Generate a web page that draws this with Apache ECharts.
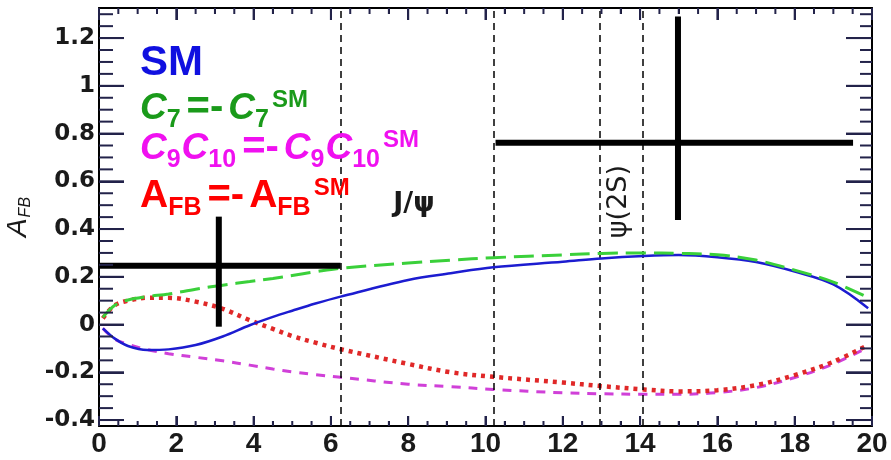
<!DOCTYPE html>
<html><head><meta charset="utf-8">
<script src="https://cdn.jsdelivr.net/npm/echarts@6/dist/echarts.min.js"></script>
<style>html,body{margin:0;padding:0;background:#fff}#c{width:891px;height:460px}</style>
</head><body><div id="c"></div>
<script>
// q^2 sample positions (GeV^2)
const q2 = [0.1, 0.4, 0.75, 1.25, 1.8, 2.5, 3.2, 3.9, 4.5, 5, 5.6, 6.25, 8, 9.1, 10.2, 12, 13, 14.1, 15, 16, 17, 18, 19, 19.9];
// SM (blue solid)
const smAfb = [-0.016, -0.058, -0.09, -0.107, -0.104, -0.086, -0.05, -0.003, 0.032, 0.058, 0.088, 0.117, 0.187, 0.215, 0.24, 0.263, 0.277, 0.287, 0.291, 0.282, 0.262, 0.222, 0.168, 0.068];
// C7 = -C7^SM (green long dash)
const c7Afb = [0.03, 0.08, 0.103, 0.117, 0.128, 0.148, 0.165, 0.18, 0.193, 0.205, 0.221, 0.236, 0.258, 0.27, 0.28, 0.292, 0.298, 0.3, 0.298, 0.292, 0.27, 0.228, 0.178, 0.113];
// C9C10 = -C9C10^SM (magenta short dash)
const c910Afb = [-0.016, -0.06, -0.083, -0.105, -0.122, -0.137, -0.152, -0.17, -0.186, -0.198, -0.21, -0.221, -0.25, -0.26, -0.272, -0.286, -0.29, -0.292, -0.292, -0.285, -0.264, -0.222, -0.165, -0.095];
// AFB = -AFB^SM (red dotted)
const flipAfb = [0.026, 0.08, 0.1, 0.112, 0.112, 0.096, 0.066, 0.018, -0.018, -0.048, -0.076, -0.103, -0.165, -0.2, -0.219, -0.243, -0.258, -0.272, -0.28, -0.275, -0.254, -0.212, -0.156, -0.086];
// measured points
const measX = [3.1, 14.98];
const measY = [0.246, 0.762];
const measXlo = [0, 10.26];
const measXhi = [6.25, 19.51];
const measYlo = [-0.009, 0.438];
const measYhi = [0.452, 1.29];
// veto boundaries
const vetoLines = [6.25, 10.22, 12.96, 14.06];
// annotations
const annText = ['J/\u03C8', '\u03C8(2S)'];
const annX = [8.15, 13.46];
const annY = [0.505, 0.515];
const annRot = [0, 1];
// ticks
const xMajor = [0, 2, 4, 6, 8, 10, 12, 14, 16, 18, 20];
const xMinor = [0.5, 1, 1.5, 2.5, 3, 3.5, 4.5, 5, 5.5, 6.5, 7, 7.5, 8.5, 9, 9.5, 10.5, 11, 11.5, 12.5, 13, 13.5, 14.5, 15, 15.5, 16.5, 17, 17.5, 18.5, 19, 19.5];
const yMajor = [-0.4, -0.2, 0, 0.2, 0.4, 0.6, 0.8, 1.0, 1.2];
const yMinor = [-0.35, -0.3, -0.25, -0.15, -0.1, -0.05, 0.05, 0.1, 0.15, 0.25, 0.3, 0.35, 0.45, 0.5, 0.55, 0.65, 0.7, 0.75, 0.85, 0.9, 0.95, 1.05, 1.1, 1.15, 1.25, 1.3];
const X_MIN = 0, X_MAX = 20, Y_MIN = -0.425, Y_MAX = 1.326;

const zip = (a, b) => a.map((v, i) => [v, b[i]]);
const chart = echarts.init(document.getElementById('c'));
const lab = '#1a1a1a';
const tickCol = '#23234a';
function mk(color) {
  const f = 'Liberation Sans';
  return {
    c: { fontSize: 37, fontWeight: 'bold', fontStyle: 'italic', fontFamily: f, fill: color, verticalAlign: 'top', lineHeight: 38, padding: [6, 0, 0, 0] },
    A: { fontSize: 39, fontWeight: 'bold', fontFamily: f, fill: color, verticalAlign: 'top', lineHeight: 38, padding: [5, 0, 0, 0] },
    o: { fontSize: 40, fontWeight: 'bold', fontFamily: f, fill: color, verticalAlign: 'top', lineHeight: 38, padding: [4, 5, 0, 5] },
    b: { fontSize: 25, fontWeight: 'bold', fontFamily: f, fill: color, verticalAlign: 'top', lineHeight: 24, padding: [24, 1, 0, 0] },
    p: { fontSize: 24, fontWeight: 'bold', fontFamily: f, fill: color, verticalAlign: 'top', lineHeight: 22, padding: [4, 0, 0, 2] }
  };
}
chart.setOption({
  animation: false,
  grid: { left: 99, right: 19, top: 8, bottom: 34, outerBoundsMode: 'none' },
  xAxis: [{
    type: 'value', position: 'bottom', min: X_MIN, max: X_MAX, interval: 2,
    axisLine: { show: true, onZero: false, lineStyle: { color: '#000', width: 2 } },
    axisTick: { show: true, inside: true, length: 10, lineStyle: { color: tickCol, width: 2 } },
    minorTick: { show: true, splitNumber: 4, length: 5 },
    axisLabel: { show: true, margin: 4, color: lab, fontSize: 28, fontWeight: 'bold', fontFamily: 'Liberation Sans' },
    splitLine: { show: false }
  }, {
    type: 'value', position: 'top', min: X_MIN, max: X_MAX, interval: 2,
    axisLine: { show: true, onZero: false, lineStyle: { color: '#000', width: 2 } },
    axisTick: { show: true, inside: true, length: 12, lineStyle: { color: tickCol, width: 2 } },
    minorTick: { show: true, splitNumber: 4, length: 6 },
    axisLabel: { show: false }, splitLine: { show: false }
  }],
  yAxis: [{
    type: 'value', position: 'left', min: Y_MIN, max: Y_MAX,
    axisLine: { show: true, onZero: false, lineStyle: { color: '#000', width: 2 } },
    axisTick: { show: true, inside: true, length: 25, customValues: yMajor, lineStyle: { color: tickCol, width: 2 } },
    axisLabel: { show: true, customValues: yMajor, margin: 4, color: lab, fontSize: 23, fontWeight: 'bold', fontFamily: 'DejaVu Sans',
      formatter: v => String(Math.round(v * 10) / 10) },
    splitLine: { show: false },
    name: '{a|A}{s|FB}', nameLocation: 'middle', nameGap: 51, nameRotate: 90,
    nameTextStyle: { rich: {
      a: { fontSize: 28, fontStyle: 'italic', fontFamily: 'Liberation Sans', color: lab, verticalAlign: 'top', lineHeight: 30 },
      s: { fontSize: 16, fontStyle: 'italic', fontFamily: 'Liberation Sans', color: lab, verticalAlign: 'top', lineHeight: 16, padding: [14, 0, 0, 1] }
    } }
  }, {
    type: 'value', position: 'right', min: Y_MIN, max: Y_MAX,
    axisLine: { show: true, onZero: false, lineStyle: { color: '#000', width: 2 } },
    axisTick: { show: true, inside: true, length: 26, customValues: yMajor, lineStyle: { color: tickCol, width: 2 } },
    axisLabel: { show: false }, splitLine: { show: false }
  }],
  series: [
    { type: 'line', data: zip(q2, c910Afb), smooth: 0.35, symbol: 'none', z: 3, lineStyle: { color: '#d040d8', type: [9, 8], width: 3 } },
    { type: 'line', data: zip(q2, flipAfb), smooth: 0.35, symbol: 'none', z: 4, lineStyle: { color: '#e02828', type: [4, 5], width: 4.5 } },
    { type: 'line', data: zip(q2, smAfb), smooth: 0.35, symbol: 'none', z: 5, lineStyle: { color: '#1c1cd0', type: 'solid', width: 2.5 } },
    { type: 'line', data: zip(q2, c7Afb), smooth: 0.35, symbol: 'none', z: 6, lineStyle: { color: '#3ad03a', type: [20, 8], width: 3 } },
    {
      type: 'line', data: [], z: 2,
      markLine: {
        symbol: 'none', silent: true, label: { show: false },
        lineStyle: { color: '#000', type: [7, 5], width: 1.5 },
        data: vetoLines.map(v => ({ xAxis: v }))
      }
    },
    {
      type: 'custom', z: 8,
      data: measX.map((x, i) => [x, measY[i], measXlo[i], measXhi[i], measYlo[i], measYhi[i]]),
      renderItem: (params, api) => {
        const l = api.coord([api.value(2), api.value(1)]);
        const r = api.coord([api.value(3), api.value(1)]);
        const lo = api.coord([api.value(0), api.value(4)]);
        const hi = api.coord([api.value(0), api.value(5)]);
        return { type: 'group', children: [
          { type: 'line', shape: { x1: l[0], y1: l[1], x2: r[0], y2: r[1] }, style: { stroke: '#000', lineWidth: 6 } },
          { type: 'line', shape: { x1: lo[0], y1: lo[1], x2: hi[0], y2: hi[1] }, style: { stroke: '#000', lineWidth: 6 } }
        ] };
      }
    },
    {
      type: 'custom', z: 9,
      data: annX.map((x, i) => [x, annY[i]]),
      renderItem: (params, api) => {
        const p = api.coord([api.value(0), api.value(1)]);
        const i = params.dataIndex;
        return { type: 'text', x: p[0], y: p[1], rotation: annRot[i] ? Math.PI / 2 : 0,
          style: { text: annText[i], fill: '#1a1a1a', align: 'center', verticalAlign: 'middle',
            font: (i === 0 ? 'bold 27px' : '27px') + ' "DejaVu Sans"' } };
      }
    },
    {
      // minor + major ticks on all four frame sides, placed through the axes' scales
      type: 'custom', z: 10, clip: false,
      data: [[10, 0.5]],
      renderItem: (params, api) => {
        const L = api.coord([X_MIN, 0])[0], R = api.coord([X_MAX, 0])[0];
        const B = api.coord([0, Y_MIN])[1], T = api.coord([0, Y_MAX])[1];
        const kids = [];
        const add = (x1, y1, x2, y2) => kids.push({ type: 'line', shape: { x1, y1, x2, y2 }, style: { stroke: tickCol, lineWidth: 2 } });
        xMajor.forEach(v => { const x = api.coord([v, 0])[0]; add(x, B, x, B - 10); add(x, T, x, T + 12); });
        xMinor.forEach(v => { const x = api.coord([v, 0])[0]; add(x, B, x, B - 5); add(x, T, x, T + 6); });
        yMajor.forEach(v => { const y = api.coord([0, v])[1]; add(L, y, L + 25, y); add(R, y, R - 26, y); });
        yMinor.forEach(v => { const y = api.coord([0, v])[1]; add(L, y, L + 14, y); add(R, y, R - 12, y); });
        return { type: 'group', children: kids };
      }
    }
  ],
  graphic: [
    { type: 'text', left: 140, top: 42, z: 100, style: { text: 'SM', fill: '#1010e0', font: 'bold 42px "Liberation Sans"' } },
    { type: 'text', left: 140, top: 84, z: 100, style: { text: '{c|C}{b|7}{o|=-}{c|C}{b|7}{p|SM}', rich: mk('#1a9a1a') } },
    { type: 'text', left: 140, top: 124, z: 100, style: { text: '{c|C}{b|9}{c|C}{b|10}{o|=-}{c|C}{b|9}{c|C}{b|10}{p|SM}', rich: mk('#f010f0') } },
    { type: 'text', left: 140, top: 172, z: 100, style: { text: '{A|A}{b|FB}{o|=-}{A|A}{b|FB}{p|SM}', rich: mk('#ff0000') } }
  ]
});
</script></body></html>
